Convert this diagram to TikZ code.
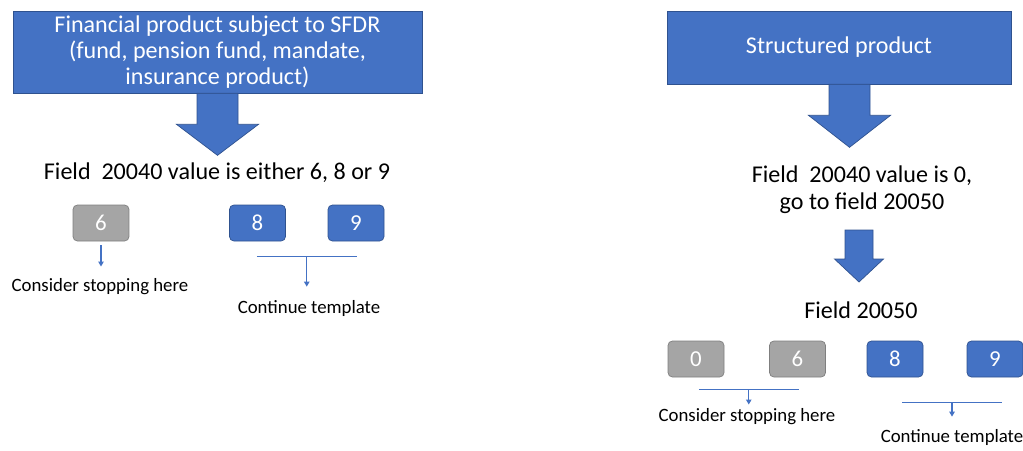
\documentclass[tikz,border=0pt]{standalone}
\usepackage{fontspec}
\setmainfont{Carlito}
\usetikzlibrary{positioning,arrows.meta,calc}
\definecolor{officeblue}{HTML}{4472C4}
\definecolor{blueedge}{HTML}{2F528F}
\definecolor{officegray}{HTML}{A5A5A5}
\definecolor{grayedge}{HTML}{7F7F7F}
\tikzset{
  prodbox/.style={draw=blueedge, fill=officeblue, text=white, align=center,
    inner sep=0pt, font=\fontsize{13.7}{15}\selectfont},
  valbox/.style={rounded corners=2.5pt, minimum width=1.12cm, minimum height=0.72cm,
    text=white, inner sep=0pt, font=\fontsize{13}{15}\selectfont},
  gobox/.style={valbox, draw=blueedge, fill=officeblue},
  stopbox/.style={valbox, draw=grayedge, fill=officegray},
  fieldtext/.style={font=\fontsize{13.7}{15.2}\selectfont, align=center, inner sep=0pt},
  note/.style={font=\fontsize{10.7}{12}\selectfont, inner sep=0pt},
  link/.style={officeblue, line width=0.6pt},
  blockarrow/.style={fill=officeblue, draw=blueedge, line width=0.4pt}
}
% #1 top point, #2 shaft half width, #3 shaft length, #4 head half width, #5 head length
\newcommand{\blockarrow}[5]{%
  \path #1 coordinate (ba);
  \filldraw[blockarrow] ($(ba)+(-#2,0)$) -- ($(ba)+(-#2,#3)$) -- ($(ba)+(-#4,#3)$)
    -- ($(ba)+(0,{#3+#5})$) -- ($(ba)+(#4,#3)$) -- ($(ba)+(#2,#3)$)
    -- ($(ba)+(#2,0)$) -- cycle;
}
\begin{document}
\begin{tikzpicture}[x=0.02cm,y=-0.02cm,>={Triangle[length=0.1cm,width=0.11cm]}]
  \useasboundingbox (0,0) rectangle (1023,450);
  % left: SFDR product
  \begin{scope}
    \node[prodbox, minimum width=8.18cm, minimum height=1.64cm] (sfdr) at (217.5,52)
      {Financial product subject to SFDR\\(fund, pension fund, mandate,\\insurance product)};
    \blockarrow{(sfdr.south)}{20.5}{31}{41}{31}
    \node[fieldtext] (fldA) at (217,173) {Field\ \ 20040 value is either 6, 8 or 9};
    \node[stopbox] (sixA) at (101,223) {6};
    \node[gobox] (eightA) at (257.5,223) {8};
    \node[gobox] (nineA) at (356,223) {9};
    \node[note] (stopA) at (100,287) {Consider stopping here};
    \node[note] (contA) at (309,308) {Continue template};
    \draw[link,->,shorten <=0.08cm,shorten >=0.24cm] (sixA.south) -- (sixA.south |- stopA.north);
    % bracket under 8 and 9
    \coordinate (brA) at ($(eightA.south)!0.5!(nineA.south)+(0,15)$);
    \draw[link] ($(brA)+(-50,0)$) -- ($(brA)+(50,0)$);
    \draw[link,->,shorten >=0.26cm] (brA) -- (brA |- contA.north);
  \end{scope}
  % right: structured product
  \begin{scope}
    \node[prodbox, minimum width=6.88cm, minimum height=1.46cm]
      (struct) at (839,47.5) {Structured product};
    \blockarrow{($(struct.south)+(10.5,0)$)}{20.5}{31}{41}{32}
    \node[fieldtext] (fldB) at (862,190) {Field\ \ 20040 value is 0,\\go to field 20050};
    \blockarrow{(859,230)}{14}{29}{24.5}{23}
    \node[fieldtext] (fldC) at (861,310) {Field 20050};
    \node[stopbox] (zeroB) at (696,359) {0};
    \node[stopbox] (sixB) at (797.5,359) {6};
    \node[gobox] (eightB) at (895,359) {8};
    \node[gobox] (nineB) at (995,359) {9};
    \node[note] (stopB) at (747,417) {Consider stopping here};
    \node[note] (contB) at (952,437) {Continue template};
    \coordinate (brB) at ($(zeroB.south)!0.5!(sixB.south)+(2,12)$);
    \draw[link] ($(brB)+(-50,0)$) -- ($(brB)+(50,0)$);
    \draw[link,->,shorten >=0.08cm] (brB) -- (brB |- stopB.north);
    \coordinate (brC) at ($(eightB.south)!0.5!(nineB.south)+(7,25)$);
    \draw[link] ($(brC)+(-50,0)$) -- ($(brC)+(50,0)$);
    \draw[link,->,shorten >=0.24cm] (brC) -- (brC |- contB.north);
  \end{scope}
\end{tikzpicture}
\end{document}
